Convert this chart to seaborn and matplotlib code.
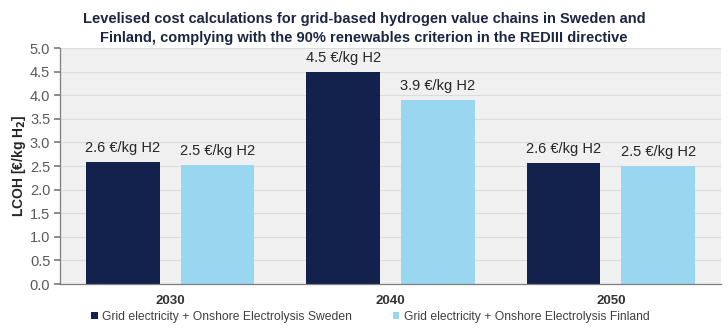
import matplotlib
matplotlib.use("Agg")
import matplotlib.pyplot as plt
import seaborn as sns
import pandas as pd
from matplotlib.patches import Patch

years = ["2030", "2040", "2050"]
series_names = ["Grid electricity + Onshore Electrolysis Sweden",
                "Grid electricity + Onshore Electrolysis Finland"]
sweden = [2.58, 4.5, 2.56]
finland = [2.53, 3.9, 2.5]
labels_sweden = ["2.6 €/kg H2", "4.5 €/kg H2", "2.6 €/kg H2"]
labels_finland = ["2.5 €/kg H2", "3.9 €/kg H2", "2.5 €/kg H2"]
colors = ["#12224d", "#98d7ef"]

df = pd.DataFrame({
    "year": years * 2,
    "series": [series_names[0]] * 3 + [series_names[1]] * 3,
    "value": sweden + finland,
})

sns.set_theme(style="white")
plt.rcParams["font.family"] = ["Liberation Sans", "DejaVu Sans"]

fig = plt.figure(figsize=(7.28, 3.33), dpi=100)
ax = fig.add_axes([60 / 728, 1 - 284 / 333, 661 / 728, 236 / 333])
ax.set_facecolor("#f0f0f0")

sns.barplot(data=df, x="year", y="value", hue="series", hue_order=series_names,
            palette=colors, width=0.86, gap=0.225, ax=ax, legend=False,
            saturation=1, edgecolor="none")

for cont, labs in zip(ax.containers, [labels_sweden, labels_finland]):
    ax.bar_label(cont, labels=labs, padding=5, fontsize=10.5, color="#262626")

ax.set_ylim(0, 5.0)
ax.set_xlim(-0.5, 2.5)
ax.set_yticks([i * 0.5 for i in range(11)])
ax.set_yticklabels([f"{i * 0.5:.1f}" for i in range(11)])
ax.yaxis.grid(True, color="#dcdcdc", linewidth=0.8)
ax.set_axisbelow(True)

ax.tick_params(axis="y", direction="out", length=4, color="#7f7f7f",
               labelcolor="#595959", labelsize=10.5, left=True, pad=3)
ax.set_xticks([0, 1, 2])
ax.set_xticklabels(years, fontweight="bold", fontsize=9.5, color="#333333")
ax.tick_params(axis="x", length=0, pad=8)
ax.set_xticks([0.5, 1.5, 2.5], minor=True)
ax.tick_params(axis="x", which="minor", direction="out", length=5, color="#7f7f7f")

for s in ["top", "right"]:
    ax.spines[s].set_visible(False)
for s in ["left", "bottom"]:
    ax.spines[s].set_color("#7f7f7f")
    ax.spines[s].set_linewidth(0.9)

ax.set_xlabel("")
ax.set_ylabel("LCOH [€/kg H$_\\mathbf{2}$]", fontweight="bold", fontsize=10,
              color="#262626", labelpad=1)

fig.suptitle("Levelised cost calculations for grid-based hydrogen value chains in Sweden and\n"
             "Finland, complying with the 90% renewables criterion in the REDIII directive",
             x=0.5, y=0.965, fontsize=10.5, fontweight="bold", color="#1c2541",
             linespacing=1.5)

handles = [Patch(facecolor=c, edgecolor="none") for c in colors]
fig.legend(handles, series_names, loc="center left", bbox_to_anchor=(80 / 728, 1 - 317 / 333),
           ncol=2, frameon=False, fontsize=8.7, handlelength=0.55, handleheight=0.55,
           handletextpad=0.35, columnspacing=3.4, labelcolor="#404040")

fig.savefig("out.png", dpi=100)
